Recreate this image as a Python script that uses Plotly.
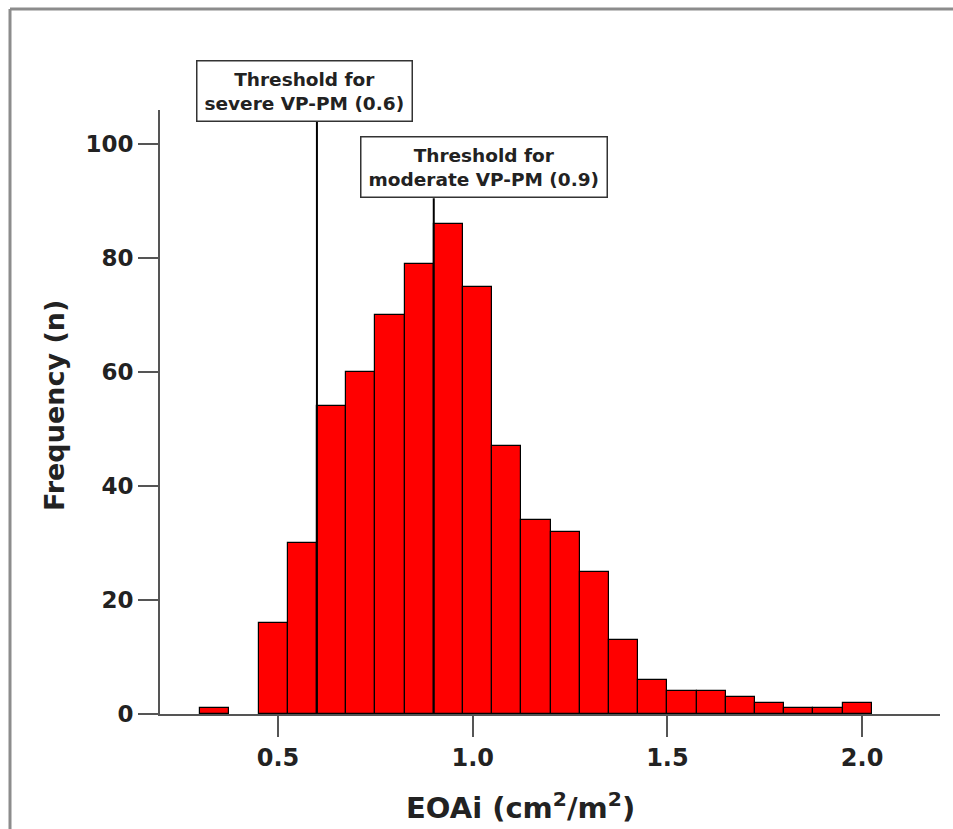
import plotly.graph_objects as go

# Histogram of indexed effective orifice area (EOAi), bin width 0.075
bin_left = [0.300, 0.375, 0.450, 0.525, 0.600, 0.675, 0.750, 0.825, 0.900,
            0.975, 1.050, 1.125, 1.200, 1.275, 1.350, 1.425, 1.500, 1.575,
            1.650, 1.725, 1.800, 1.875, 1.950]
counts = [1, 0, 16, 30, 54, 60, 70, 79, 86,
          75, 47, 34, 32, 25, 13, 6, 4, 4,
          3, 2, 1, 1, 2]
bin_width = 0.075

thresholds = [0.6, 0.9]
threshold_labels = ["Threshold for<br>severe VP-PM (0.6)",
                    "Threshold for<br>moderate VP-PM (0.9)"]

y_ticks = [0, 20, 40, 60, 80, 100]
x_ticks = [0.5, 1.0, 1.5, 2.0]
x_tick_text = ["0.5", "1.0", "1.5", "2.0"]

FONT = "DejaVu Sans"
AXIS_GREY = "#555555"
TEXT = "#222222"

W, H = 953, 829
ML, MR, MT, MB = 160, 13, 110, 115
PW, PH = W - ML - MR, H - MT - MB


def px_x(px):
    return (px - ML) / PW


def px_y(py):
    return (H - MB - py) / PH


fig = go.Figure()
fig.add_trace(go.Bar(
    x=bin_left, y=counts, width=bin_width, offset=0,
    marker=dict(color="#ff0000",
                line=dict(color="#000000",
                          width=[1.2 if c > 0 else 0 for c in counts])),
    showlegend=False,
))

# threshold lines with label boxes sitting on top of them
box_pos = [(0.569, 103.9), (1.028, 90.5)]
shapes = []
annotations = []
for thr, lab, (bx, by) in zip(thresholds, threshold_labels, box_pos):
    shapes.append(dict(type="line", xref="x", yref="y", x0=thr, x1=thr,
                       y0=0, y1=by, line=dict(color="#000000", width=2),
                       layer="above"))
    annotations.append(dict(
        x=bx, y=by, xref="x", yref="y", xanchor="center", yanchor="bottom",
        text=lab, showarrow=False, align="center",
        font=dict(family=FONT, size=18.5, color=TEXT, weight="bold"),
        bgcolor="#ffffff", bordercolor="#333333", borderwidth=1.5, borderpad=7,
    ))

# axis titles
annotations.append(dict(
    x=px_x(520), y=px_y(806), xref="paper", yref="paper",
    xanchor="center", yanchor="middle", showarrow=False,
    text="EOAi (cm<sup>2</sup>/m<sup>2</sup>)",
    font=dict(family=FONT, size=29, color=TEXT, weight="bold"),
))
annotations.append(dict(
    x=px_x(55), y=px_y(406), xref="paper", yref="paper",
    xanchor="center", yanchor="middle", showarrow=False, textangle=-90,
    text="Frequency (n)",
    font=dict(family=FONT, size=27, color=TEXT, weight="bold"),
))

# frame lines along the top and left of the figure
shapes.append(dict(type="line", xref="paper", yref="paper",
                   x0=px_x(10), x1=px_x(953), y0=px_y(9), y1=px_y(9),
                   line=dict(color="#8c8c8c", width=3)))
shapes.append(dict(type="line", xref="paper", yref="paper",
                   x0=px_x(10), x1=px_x(10), y0=px_y(9), y1=px_y(829),
                   line=dict(color="#8c8c8c", width=3)))

fig.update_layout(
    width=W, height=H,
    margin=dict(l=ML, r=MR, t=MT, b=MB),
    paper_bgcolor="#ffffff", plot_bgcolor="#ffffff",
    bargap=0,
    shapes=shapes, annotations=annotations,
    xaxis=dict(
        range=[0.197, 2.2], tickvals=x_ticks, ticktext=x_tick_text,
        showgrid=False, zeroline=False,
        showline=True, linecolor=AXIS_GREY, linewidth=2,
        ticks="outside", ticklen=21, tickwidth=2, tickcolor=AXIS_GREY,
        tickfont=dict(family=FONT, size=24, color=TEXT, weight="bold"),
    ),
    yaxis=dict(
        range=[0, 106], tickvals=y_ticks,
        showgrid=False, zeroline=False,
        showline=True, linecolor=AXIS_GREY, linewidth=2,
        ticks="outside", ticklen=20, tickwidth=2, tickcolor=AXIS_GREY,
        tickfont=dict(family=FONT, size=23, color=TEXT, weight="bold"),
    ),
)

fig.write_html("out.html")
